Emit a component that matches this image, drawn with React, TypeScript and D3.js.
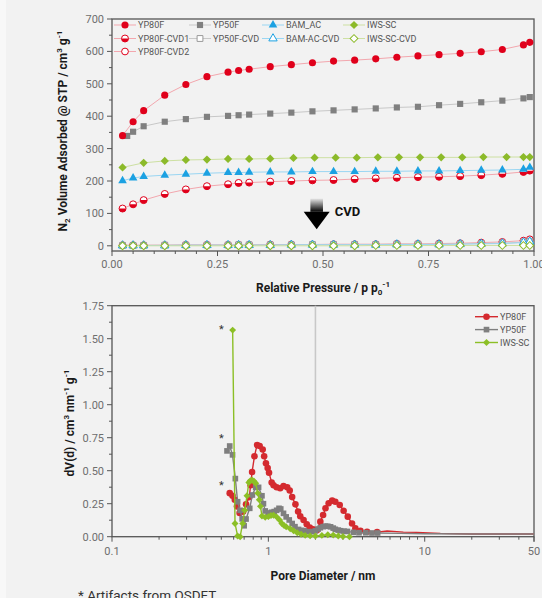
import React, { useEffect, useRef } from 'react';
import * as d3 from 'd3';

// ---- isotherms (top) ----
const pAds = [0.025, 0.05, 0.075, 0.125, 0.175, 0.225, 0.275, 0.3, 0.325, 0.375, 0.425, 0.475, 0.525, 0.575, 0.625, 0.675, 0.725, 0.775, 0.825, 0.875, 0.925, 0.975, 0.99];
const pYP50F = [0.036, 0.05, 0.075, 0.125, 0.175, 0.225, 0.275, 0.3, 0.325, 0.375, 0.425, 0.475, 0.525, 0.575, 0.625, 0.675, 0.725, 0.775, 0.825, 0.875, 0.925, 0.975, 0.99];
const pIWS = [0.025, 0.075, 0.125, 0.175, 0.225, 0.275, 0.325, 0.375, 0.43, 0.48, 0.53, 0.58, 0.63, 0.68, 0.73, 0.78, 0.83, 0.88, 0.935, 0.975, 0.99];

const adsYP80F = [340, 383, 417, 465, 498, 522, 536, 541, 545, 553, 559, 565, 570, 573, 577, 582, 586, 590, 594, 599, 606, 620, 628];
const adsYP50F = [339, 352, 369, 383, 391, 398, 401, 403, 405, 408, 411, 415, 418, 421, 424, 427, 429, 434, 438, 443, 448, 455, 459];
const adsBAM = [201, 209, 214, 218, 221, 224, 226, 226, 227, 228, 228, 229, 229, 229, 230, 230, 231, 231, 232, 233, 234, 236, 242];
const adsIWS = [242, 256, 262, 265, 266, 268, 268, 269, 271, 272, 272, 272, 273, 273, 273, 273, 273, 274, 274, 274, 274];
const adsYP80FCVD1 = [115, 128, 141, 160, 174, 184, 190, 194, 195, 198, 200, 202, 203, 206, 208, 210, 212, 213, 215, 218, 222, 228, 232];
const adsYP80FCVD2 = [2, 2, 2, 2, 3, 3, 3, 3, 3, 4, 4, 4, 5, 5, 5, 6, 6, 7, 8, 10, 12, 16, 20];
const adsYP50FCVD = [1, 1, 1, 2, 2, 2, 2, 3, 3, 3, 3, 4, 4, 4, 4, 5, 5, 5, 6, 7, 8, 11, 14];
const adsBAMCVD = [1, 1, 1, 1, 2, 2, 2, 2, 2, 2, 3, 3, 3, 3, 3, 4, 4, 4, 5, 6, 7, 10, 13];
const adsIWSCVD = [0, 0, 0, 0, 0, 0, 0, 0, 0, 0, 0, 0, 0, 0, 1, 1, 1, 1, 1, 1, 1, 1, 1];

const topYTicks = [0, 100, 200, 300, 400, 500, 600, 700];
const topXTicks = [0, 0.25, 0.5, 0.75, 1];

// ---- pore size distributions (bottom) ----
const psdYP80F = [[0.566, 0.33], [0.59, 0.31], [0.61, 0.28], [0.63, 0.23], [0.655, 0.18], [0.69, 0.19], [0.72, 0.245], [0.755, 0.3], [0.77, 0.39], [0.787, 0.49], [0.815, 0.61], [0.847, 0.695], [0.88, 0.687], [0.92, 0.66], [0.94, 0.61], [0.965, 0.556], [0.99, 0.52], [1.01, 0.485], [1.05, 0.41], [1.08, 0.39], [1.13, 0.374], [1.19, 0.367], [1.25, 0.384], [1.32, 0.374], [1.37, 0.35], [1.42, 0.3], [1.49, 0.245], [1.55, 0.19], [1.6, 0.155], [1.68, 0.126], [1.76, 0.094], [1.84, 0.07], [1.93, 0.057], [2.05, 0.05], [2.15, 0.114], [2.24, 0.165], [2.32, 0.215], [2.43, 0.253], [2.56, 0.273], [2.68, 0.265], [2.86, 0.24], [3.03, 0.197], [3.22, 0.152], [3.43, 0.1], [3.6, 0.063], [3.88, 0.045], [4.28, 0.038], [4.96, 0.035], [5.75, 0.043], [7.3, 0.035], [8.9, 0.033], [12.6, 0.025], [20, 0.02], [35, 0.02], [50, 0.02]];
const psdYP50F = [[0.544, 0.65], [0.566, 0.687], [0.59, 0.62], [0.615, 0.44], [0.636, 0.265], [0.66, 0.2], [0.68, 0.135], [0.7, 0.083], [0.72, 0.134], [0.76, 0.215], [0.79, 0.316], [0.83, 0.374], [0.866, 0.374], [0.91, 0.31], [0.93, 0.25], [0.955, 0.195], [1.0, 0.18], [1.05, 0.185], [1.09, 0.19], [1.13, 0.2], [1.17, 0.215], [1.2, 0.21], [1.25, 0.177], [1.3, 0.15], [1.36, 0.127], [1.42, 0.1], [1.48, 0.076], [1.56, 0.055], [1.63, 0.048], [1.7, 0.045], [1.8, 0.038], [1.92, 0.038], [2.0, 0.045], [2.08, 0.058], [2.15, 0.068], [2.24, 0.076], [2.32, 0.08], [2.4, 0.079], [2.5, 0.075], [2.6, 0.065], [2.68, 0.056], [2.8, 0.05], [2.9, 0.045], [3.05, 0.042], [3.2, 0.04], [3.5, 0.033], [3.8, 0.03], [4.2, 0.03], [4.6, 0.028], [5.0, 0.028], [7, 0.025], [10, 0.022], [20, 0.02], [50, 0.02]];
const psdIWS = [[0.591, 1.565], [0.612, 0.1], [0.636, 0.005], [0.66, 0.0], [0.685, 0.1], [0.706, 0.2], [0.73, 0.31], [0.75, 0.41], [0.767, 0.425], [0.787, 0.43], [0.81, 0.42], [0.83, 0.405], [0.855, 0.33], [0.875, 0.28], [0.89, 0.23], [0.91, 0.157], [0.955, 0.147], [1.0, 0.152], [1.04, 0.16], [1.08, 0.162], [1.13, 0.15], [1.18, 0.127], [1.22, 0.1], [1.26, 0.085], [1.3, 0.075], [1.38, 0.06], [1.45, 0.045], [1.53, 0.03], [1.62, 0.018], [1.72, 0.01], [1.85, 0.006], [2.0, 0.005], [2.2, 0.01], [2.4, 0.015], [2.6, 0.012], [2.8, 0.005], [3.0, 0.002], [3.3, 0.0]];
const artifactLevels = [1.58, 0.755, 0.40];
const botYTicks = [0, 0.25, 0.5, 0.75, 1, 1.25, 1.5, 1.75];
const botXTicks = [0.1, 1, 10, 50];

const FONT = 'Roboto, "DejaVu Sans", sans-serif';
const RED = '#e0001b';
const GREY = '#808080';
const BLUE = '#1ba1e2';
const GREEN = '#8cba2a';

function addMarker(g: any, shape: string, style: string, color: string, x: number, y: number, size: number) {
  const type = shape === 'circle' ? d3.symbolCircle : shape === 'triangle' ? d3.symbolTriangle : d3.symbolSquare;
  const rot = shape === 'diamond' ? ' rotate(45)' : '';
  const m = g.append('path').attr('d', d3.symbol().type(type).size(size)() as string)
    .attr('transform', `translate(${x},${y})${rot}`);
  if (style === 'solid') m.attr('fill', color);
  else m.attr('fill', '#fff').attr('stroke', color).attr('stroke-width', 1);
  if (style === 'half') {
    // lower half filled
    const r = Math.sqrt(size / Math.PI);
    g.append('path').attr('d', `M${-r},0A${r},${r} 0 0 0 ${r},0Z`)
      .attr('transform', `translate(${x},${y})`).attr('fill', color);
  }
}

export default function App() {
  const ref = useRef<SVGSVGElement>(null);

  useEffect(() => {
    const svg = d3.select(ref.current);
    svg.selectAll('*').remove();
    const W = 542, H = 598;
    svg.append('rect').attr('width', W).attr('height', H).attr('fill', '#f2f2f2');
    svg.append('rect').attr('width', 6).attr('height', H).attr('fill', '#f8f8f8');

    const defs = svg.append('defs');
    const grad = defs.append('linearGradient').attr('id', 'cvdGrad')
      .attr('x1', 0).attr('y1', 0).attr('x2', 0).attr('y2', 1);
    grad.append('stop').attr('offset', '0%').attr('stop-color', '#e8e8e8');
    grad.append('stop').attr('offset', '100%').attr('stop-color', '#000');

    const axisColor = '#555';
    const tickColor = '#6e6e6e';

    // ================= TOP: isotherms =================
    const L = 112, R = 534;
    const xT = d3.scaleLinear().domain([0, 1]).range([L, R]);
    const yT = d3.scaleLinear().domain([0, 700]).range([245.8, 19]);
    const topAxisY = 251;

    const top = svg.append('g');
    top.append('rect').attr('x', L).attr('y', yT(700)).attr('width', R - L).attr('height', topAxisY - yT(700))
      .attr('fill', 'none').attr('stroke', axisColor).attr('stroke-width', 1.3);

    d3.range(0, 701, 50).forEach(v => {
      const major = v % 100 === 0;
      top.append('line').attr('x1', L).attr('x2', L - (major ? 5 : 3)).attr('y1', yT(v)).attr('y2', yT(v))
        .attr('stroke', axisColor).attr('stroke-width', 1);
    });
    topYTicks.forEach(v => {
      top.append('text').attr('x', L - 8).attr('y', yT(v) + 4).attr('text-anchor', 'end')
        .attr('font-family', FONT).attr('font-size', 11).attr('fill', tickColor).text(v);
    });
    d3.range(0, 21).forEach(i => {
      const v = i * 0.05;
      const major = i % 5 === 0;
      top.append('line').attr('x1', xT(v)).attr('x2', xT(v)).attr('y1', topAxisY).attr('y2', topAxisY + (major ? 5 : 3))
        .attr('stroke', axisColor).attr('stroke-width', 1);
    });
    topXTicks.forEach(v => {
      top.append('text').attr('x', xT(v)).attr('y', 268).attr('text-anchor', 'middle')
        .attr('font-family', FONT).attr('font-size', 11).attr('fill', tickColor).text(v.toFixed(2));
    });

    const topSeries = [
      { name: 'YP80F-CVD2', p: pAds, v: adsYP80FCVD2, color: RED, line: '#f3a7ae', shape: 'circle', style: 'open', size: 36 },
      { name: 'YP50F-CVD', p: pAds, v: adsYP50FCVD, color: '#999', line: '#c8c8c8', shape: 'square', style: 'open', size: 34 },
      { name: 'BAM-AC-CVD', p: pAds, v: adsBAMCVD, color: BLUE, line: '#9ad6f2', shape: 'triangle', style: 'open', size: 30 },
      { name: 'IWS-SC-CVD', p: pAds, v: adsIWSCVD, color: GREEN, line: '#cde0a2', shape: 'diamond', style: 'open', size: 30 },
      { name: 'YP80F-CVD1', p: pAds, v: adsYP80FCVD1, color: RED, line: '#f3a7ae', shape: 'circle', style: 'half', size: 38 },
      { name: 'BAM_AC', p: pAds, v: adsBAM, color: BLUE, line: '#9ad6f2', shape: 'triangle', style: 'solid', size: 32 },
      { name: 'IWS-SC', p: pIWS, v: adsIWS, color: GREEN, line: '#cde0a2', shape: 'diamond', style: 'solid', size: 34 },
      { name: 'YP50F', p: pYP50F, v: adsYP50F, color: GREY, line: '#c8c8c8', shape: 'square', style: 'solid', size: 38 },
      { name: 'YP80F', p: pAds, v: adsYP80F, color: RED, line: '#f3a7ae', shape: 'circle', style: 'solid', size: 40 },
    ];
    topSeries.forEach(s => {
      const pts = s.p.map((p, i) => [xT(p), yT(s.v[i])] as [number, number]);
      top.append('path').attr('d', d3.line()(pts) as string).attr('fill', 'none')
        .attr('stroke', s.line).attr('stroke-width', 1);
      pts.forEach(([x, y]) => addMarker(top, s.shape, s.style, s.color, x, y, s.size));
    });

    // legend, 4 columns
    const legendCols = [114, 189, 262, 343];
    const legendRows = [25, 38.5, 51.5];
    const legendLayout: [string, number, number][] = [
      ['YP80F', 0, 0], ['YP50F', 1, 0], ['BAM_AC', 2, 0], ['IWS-SC', 3, 0],
      ['YP80F-CVD1', 0, 1], ['YP50F-CVD', 1, 1], ['BAM-AC-CVD', 2, 1], ['IWS-SC-CVD', 3, 1],
      ['YP80F-CVD2', 0, 2],
    ];
    legendLayout.forEach(([name, c, r]) => {
      const s = topSeries.find(d => d.name === name)!;
      const x0 = legendCols[c], y0 = legendRows[r];
      top.append('line').attr('x1', x0).attr('x2', x0 + 22).attr('y1', y0).attr('y2', y0)
        .attr('stroke', s.line).attr('stroke-width', 1);
      addMarker(top, s.shape, s.style, s.color, x0 + 11, y0, s.size);
      top.append('text').attr('x', x0 + 24).attr('y', y0 + 3.2)
        .attr('font-family', FONT).attr('font-size', 9).attr('fill', '#555').text(name);
    });

    // CVD arrow
    const ax = xT(0.485);
    top.append('rect').attr('x', ax - 6.3).attr('y', yT(146)).attr('width', 12.6).attr('height', yT(105) - yT(146))
      .attr('fill', 'url(#cvdGrad)');
    top.append('path')
      .attr('d', `M${ax - 13},${yT(105)}L${ax + 13},${yT(105)}L${ax},${yT(51)}Z`).attr('fill', '#000');
    top.append('text').attr('x', ax + 18).attr('y', yT(105) + 4).attr('font-family', FONT)
      .attr('font-size', 13).attr('font-weight', 'bold').attr('fill', '#111').text('CVD');

    const tx = top.append('text').attr('x', 323).attr('y', 292).attr('text-anchor', 'middle')
      .attr('font-family', FONT).attr('font-size', 12).attr('font-weight', 'bold').attr('fill', '#1a1a1a');
    tx.append('tspan').text('Relative Pressure / p p');
    tx.append('tspan').attr('font-size', 8).attr('dy', 3).text('0');
    tx.append('tspan').attr('font-size', 8).attr('dy', -8).text('-1');

    const ty = top.append('text').attr('transform', `translate(67,131) rotate(-90)`).attr('text-anchor', 'middle')
      .attr('font-family', FONT).attr('font-size', 12).attr('font-weight', 'bold').attr('fill', '#1a1a1a');
    ty.append('tspan').text('N');
    ty.append('tspan').attr('font-size', 8).attr('dy', 3).text('2');
    ty.append('tspan').attr('dy', -3).text(' Volume Adsorbed @ STP / cm');
    ty.append('tspan').attr('font-size', 8).attr('dy', -5).text('3');
    ty.append('tspan').attr('dy', 5).text(' g');
    ty.append('tspan').attr('font-size', 8).attr('dy', -5).text('-1');

    // ================= BOTTOM: PSD =================
    const xB = d3.scaleLog().domain([0.1, 50]).range([L, R]);
    const yB = d3.scaleLinear().domain([0, 1.75]).range([536.7, 305.7]);
    const bot = svg.append('g');

    bot.append('rect').attr('x', L).attr('y', yB(1.75)).attr('width', R - L).attr('height', yB(0) - yB(1.75))
      .attr('fill', 'none').attr('stroke', axisColor).attr('stroke-width', 1.3);
    // micro / meso boundary at 2 nm
    bot.append('line').attr('x1', xB(2)).attr('x2', xB(2)).attr('y1', yB(1.75)).attr('y2', yB(0))
      .attr('stroke', '#c8c8c8').attr('stroke-width', 1.6);

    d3.range(0, 15).forEach(i => {
      const v = i * 0.125;
      const major = i % 2 === 0;
      bot.append('line').attr('x1', L).attr('x2', L - (major ? 5 : 3)).attr('y1', yB(v)).attr('y2', yB(v))
        .attr('stroke', axisColor).attr('stroke-width', 1);
    });
    botYTicks.forEach(v => {
      bot.append('text').attr('x', L - 8).attr('y', yB(v) + 4).attr('text-anchor', 'end')
        .attr('font-family', FONT).attr('font-size', 11).attr('fill', tickColor).text(v.toFixed(2));
    });
    const minorLog: number[] = [];
    [0.1, 1, 10].forEach(dec => d3.range(1, 10).forEach(k => { if (dec * k <= 50) minorLog.push(dec * k); }));
    minorLog.push(50);
    minorLog.forEach(v => {
      const major = [0.1, 1, 10, 50].some(m => Math.abs(m - v) < 1e-9);
      bot.append('line').attr('x1', xB(v)).attr('x2', xB(v)).attr('y1', yB(0)).attr('y2', yB(0) + (major ? 5 : 3))
        .attr('stroke', axisColor).attr('stroke-width', 1);
    });
    botXTicks.forEach(v => {
      bot.append('text').attr('x', xB(v)).attr('y', 555).attr('text-anchor', 'middle')
        .attr('font-family', FONT).attr('font-size', 11).attr('fill', tickColor).text(String(v));
    });

    const botSeries = [
      { name: 'YP80F', data: psdYP80F, color: '#d42a2f', shape: 'circle', size: 34 },
      { name: 'YP50F', data: psdYP50F, color: '#7f7f7f', shape: 'square', size: 32 },
      { name: 'IWS-SC', data: psdIWS, color: '#8cbf26', shape: 'diamond', size: 24 },
    ];
    botSeries.forEach(s => {
      const pts = s.data.map(([d, v]) => [xB(d), yB(v)] as [number, number]);
      bot.append('path').attr('d', d3.line()(pts) as string).attr('fill', 'none')
        .attr('stroke', s.color).attr('stroke-width', 1.4);
      s.data.forEach(([d, v]) => {
        if (d <= 5) addMarker(bot, s.shape, 'solid', s.color, xB(d), yB(v), s.size);
      });
    });
    artifactLevels.forEach(v => {
      bot.append('text').attr('x', xB(0.5)).attr('y', yB(v) + 5).attr('text-anchor', 'middle')
        .attr('font-family', FONT).attr('font-size', 11).attr('fill', '#333').text('*');
    });

    botSeries.forEach((s, i) => {
      const y0 = 316.7 + i * 12.9;
      bot.append('line').attr('x1', 475).attr('x2', 498).attr('y1', y0).attr('y2', y0)
        .attr('stroke', s.color).attr('stroke-width', 1.4);
      addMarker(bot, s.shape, 'solid', s.color, 486.5, y0, s.size);
      bot.append('text').attr('x', 500).attr('y', y0 + 3.2)
        .attr('font-family', FONT).attr('font-size', 9).attr('fill', '#555').text(s.name);
    });

    bot.append('text').attr('x', 323).attr('y', 580).attr('text-anchor', 'middle')
      .attr('font-family', FONT).attr('font-size', 12).attr('font-weight', 'bold').attr('fill', '#1a1a1a')
      .text('Pore Diameter / nm');

    const by = bot.append('text').attr('transform', `translate(74,423) rotate(-90)`).attr('text-anchor', 'middle')
      .attr('font-family', FONT).attr('font-size', 12).attr('font-weight', 'bold').attr('fill', '#1a1a1a');
    by.append('tspan').text('dV(d) / cm');
    by.append('tspan').attr('font-size', 8).attr('dy', -5).text('3');
    by.append('tspan').attr('dy', 5).text(' nm');
    by.append('tspan').attr('font-size', 8).attr('dy', -5).text('-1');
    by.append('tspan').attr('dy', 5).text(' g');
    by.append('tspan').attr('font-size', 8).attr('dy', -5).text('-1');

    svg.append('text').attr('x', 78).attr('y', 600).attr('font-family', FONT).attr('font-size', 13.5)
      .attr('fill', '#333').text('* Artifacts from QSDFT');
  }, []);

  return <svg ref={ref} width={542} height={598} style={{ position: 'absolute', left: 0, top: 0 }} />;
}
